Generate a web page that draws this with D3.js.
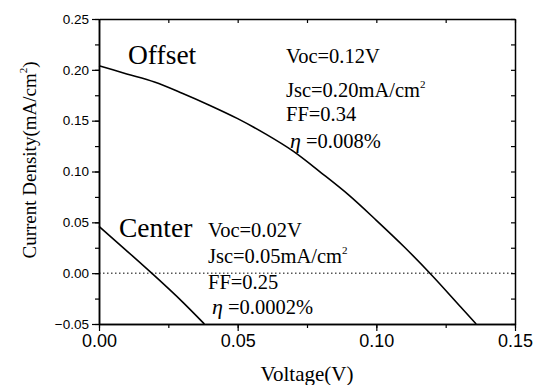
<!DOCTYPE html>
<meta charset="utf-8">
<style>
body{ margin:0; background:#fff; }
.tick text{ font-family:"Liberation Sans", Arial, sans-serif; fill:#000; }
.title{ font-family:"Liberation Serif", "Times New Roman", serif; fill:#000; }
.note{ font-family:"Liberation Serif", "Times New Roman", serif; font-size:20.5px; fill:#000; }
.label{ font-family:"Liberation Serif", "Times New Roman", serif; font-size:27.5px; fill:#000; }
</style>
<body>
<div id="chart"></div>
<script src="https://d3js.org/d3.v7.min.js"></script>
<script>
// measured J-V points
var offsetV = [0, 0.01, 0.02, 0.03, 0.04, 0.05, 0.06, 0.07, 0.08, 0.09, 0.10, 0.11, 0.12, 0.13, 0.136];
var offsetJ = [0.204, 0.196, 0.188, 0.177, 0.165, 0.152, 0.137, 0.120, 0.099, 0.077, 0.052, 0.026, -0.002, -0.032, -0.050];
var centerV = [0, 0.01, 0.019, 0.03, 0.038];
var centerJ = [0.046, 0.022, 0, -0.028, -0.050];

var xTicks = [0, 0.05, 0.10, 0.15];
var yTicks = [-0.05, 0, 0.05, 0.10, 0.15, 0.20, 0.25];

var offsetNotes = ["Voc=0.12V", "Jsc=0.20mA/cm", "FF=0.34", "\u03B7 =0.008%"];
var centerNotes = ["Voc=0.02V", "Jsc=0.05mA/cm", "FF=0.25", "\u03B7 =0.0002%"];

var W = 533, H = 385;
var m = {left:99, right:18, top:19, bottom:61};

var svg = d3.select("#chart").append("svg").attr("width", W).attr("height", H);

var x = d3.scaleLinear().domain([0, 0.15]).range([m.left, W - m.right]);
var y = d3.scaleLinear().domain([-0.05, 0.25]).range([H - m.bottom, m.top]);

var minorX = d3.range(0, 0.1501, 0.025);
var minorY = d3.range(-0.05, 0.2501, 0.025);

// minor ticks, all four sides
svg.append("g").attr("transform","translate(0,"+y(-0.05)+")")
    .call(d3.axisBottom(x).tickValues(minorX).tickSize(4).tickSizeOuter(0).tickFormat(""));
svg.append("g").attr("transform","translate("+m.left+",0)")
    .call(d3.axisLeft(y).tickValues(minorY).tickSize(4).tickSizeOuter(0).tickFormat(""));
svg.append("g").attr("transform","translate(0,"+m.top+")")
    .call(d3.axisBottom(x).tickValues(minorX).tickSize(4).tickSizeOuter(0).tickFormat(""));
svg.append("g").attr("transform","translate("+x(0.15)+",0)")
    .call(d3.axisLeft(y).tickValues(minorY).tickSize(4).tickSizeOuter(0).tickFormat(""));

// major ticks + labels
var xa = svg.append("g").attr("transform","translate(0,"+y(-0.05)+")")
    .call(d3.axisBottom(x).tickValues(xTicks).tickSize(7).tickSizeOuter(0).tickPadding(3).tickFormat(d3.format(".2f")));
xa.selectAll("text").style("font-size","18px");

var ya = svg.append("g").attr("transform","translate("+m.left+",0)")
    .call(d3.axisLeft(y).tickValues(yTicks).tickSize(7).tickSizeOuter(0).tickPadding(3).tickFormat(d3.format(".2f")));
ya.selectAll("text").style("font-size","13.5px");

svg.selectAll(".domain").attr("stroke","#000").attr("stroke-width",1.5);
svg.selectAll(".tick line").attr("stroke","#000").attr("stroke-width",1.2);

// zero line
svg.append("line")
    .attr("x1", x(0)).attr("x2", x(0.15))
    .attr("y1", y(0)).attr("y2", y(0))
    .attr("stroke","#000").attr("stroke-width",1)
    .attr("stroke-dasharray","1.5,2.5");

var line = d3.line().x(d => x(d[0])).y(d => y(d[1])).curve(d3.curveMonotoneX);

svg.append("path")
    .datum(d3.zip(offsetV, offsetJ))
    .attr("d", line).attr("fill","none").attr("stroke","#000").attr("stroke-width",1.6);
svg.append("path")
    .datum(d3.zip(centerV, centerJ))
    .attr("d", line).attr("fill","none").attr("stroke","#000").attr("stroke-width",1.6);

// curve labels
svg.append("text").attr("class","label").attr("x",128).attr("y",64).text("Offset");
svg.append("text").attr("class","label").attr("x",119).attr("y",237).text("Center");

function notes(list, x0, ys){
    list.forEach(function(t, i){
        var tx = svg.append("text").attr("class","note").attr("x", i == 3 ? x0 + 4 : x0).attr("y", ys[i]);
        if (i == 3){
            tx.append("tspan").style("font-style","italic").style("font-size","22px").text("\u03B7");
            tx.append("tspan").text(" =" + t.split("=")[1]);
        } else {
            tx.append("tspan").text(t);
            if (i == 1) tx.append("tspan").attr("dy",-9).style("font-size","11px").text("2");
        }
    });
}
notes(offsetNotes, 286, [63, 97, 121, 148]);
notes(centerNotes, 208, [237, 263, 289, 314]);

// axis titles
svg.append("text").attr("class","title").style("font-size","21px")
    .attr("text-anchor","middle").attr("x", 307).attr("y", 381).text("Voltage(V)");
var yt = svg.append("text").attr("class","title").style("font-size","19px")
    .attr("text-anchor","middle").attr("transform","translate(36,160) rotate(-90)");
yt.append("tspan").text("Current Density(mA/cm");
yt.append("tspan").attr("dy",-9).style("font-size","11px").text("2");
yt.append("tspan").attr("dy",9).text(")");
</script>
</body>
